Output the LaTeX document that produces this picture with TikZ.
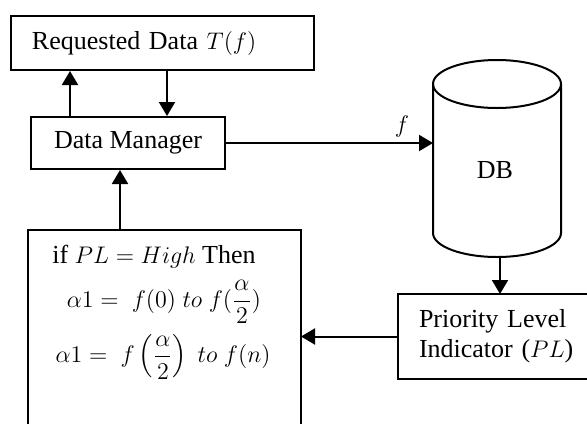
\documentclass[tikz,border=0pt]{standalone}
\usepackage{amsmath}
\usepackage{fontspec}
\setmainfont{Liberation Serif}
\usetikzlibrary{arrows.meta}
\begin{document}
\begin{tikzpicture}[x=0.5pt,y=-0.5pt, line width=1pt,
  font=\fontsize{13}{15}\selectfont,
  box/.style={draw, inner sep=0pt},
  arr/.style={-{Triangle[length=7pt,width=8pt]}}]
\useasboundingbox (0,0) rectangle (587,423);
\clip (0,0) rectangle (587,423);
% boxes
\node[box, minimum width=151.5pt, minimum height=27pt, text width=130.5pt, inner xsep=10.5pt, align=left] (rd) at (162.5,43) {Requested Data $T(f)$};
\node[box, minimum width=97pt, minimum height=26pt] (dm) at (128,143) {Data Manager};
\node[anchor=west, minimum width=140pt, minimum height=41.5pt, text width=120pt, inner ysep=0pt, inner xsep=10pt, align=left] (pli) at (398,336.5) {Priority Level\\Indicator ($PL$)};
\draw (pli.north east) -- (pli.north west) -- (pli.south west) -- (pli.south east);
\node[minimum width=135.5pt, minimum height=97pt, inner sep=0pt] (fb) at (164.5,328) {};
\draw (fb.south west) -- (fb.north west) -- (fb.north east) -- (fb.south east);
\node (l1) at (154,257) {if $PL = High$ Then};
\node (l2) at (164,302) {$\alpha 1 =\ f(0)\ to\ f(\dfrac{\alpha}{2})$};
\node (l3) at (163,357) {$\displaystyle \alpha 1 =\ f\left(\frac{\alpha}{2}\right)\ to\ f(n)$};
% database cylinder
\draw (497,84) ellipse [x radius=32pt, y radius=12pt];
\draw (433,84) -- (433,233) arc[start angle=180, end angle=360, x radius=32pt, y radius=12pt] -- (561,84);
\node (db) at (495,170) {DB};
\coordinate (dbW) at (433,144);
\coordinate (dbS) at (500,257);
% connectors
\coordinate (u1) at (70,117);
\coordinate (d1) at (167,70);
\coordinate (u2) at (120,231);
\draw[arr] (u1) -- (u1 |- rd.south);
\draw[arr] (d1) -- (d1 |- dm.north);
\draw[arr] (u2) -- (u2 |- dm.south);
\draw[arr] (dm.east) -- (dm.east -| dbW);
\node (f) at (402,126) {$f$};
\draw[arr] (dbS) -- (dbS |- pli.north);
\draw[arr] (pli.west) -- (pli.west -| fb.east);
\end{tikzpicture}
\end{document}
